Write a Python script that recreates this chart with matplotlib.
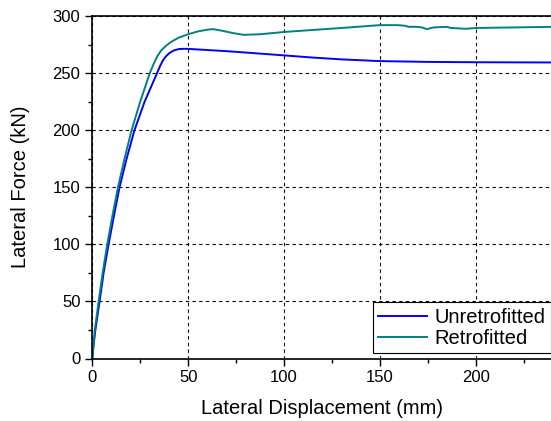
import numpy as np
import matplotlib
matplotlib.use("Agg")
import matplotlib.pyplot as plt
from matplotlib.ticker import MultipleLocator

plt.rcParams['font.family'] = ['Liberation Sans', 'DejaVu Sans']

# curva sin refuerzo
x_unret = [0, 0.7, 1.6, 3.8, 5.9, 8.5, 11.3, 14.2, 17.9, 22, 27.3, 33.8, 35.3, 36.8, 38.3,
           40.2, 42.5, 45, 48, 52, 60, 70, 80, 100, 115, 130, 150, 175, 200, 240]
f_unret = [0, 12, 25, 50, 75, 100, 125, 150, 175, 200, 225, 250, 256, 261, 264.5,
           267.5, 269.8, 271, 271.3, 271, 270.2, 269.2, 268, 265.5, 263.6, 262, 260.5,
           259.8, 259.5, 259.3]

# curva con refuerzo
x_ret = [0, 0.6, 1.3, 3.3, 5.4, 7.8, 10.5, 13.4, 16.8, 20.5, 25, 30, 32, 34, 36, 38.5,
         41.3, 45, 50, 55, 60, 63, 68, 73.5, 79, 87.5, 100, 130, 150, 159, 163, 165, 168,
         172, 174.5, 178, 185, 187, 195, 200, 220, 240]
f_ret = [0, 12, 25, 50, 75, 100, 125, 150, 175, 200, 225, 250, 258, 265, 270, 274,
         277.5, 281, 284, 286.5, 288, 288.5, 287, 285, 283.5, 284, 286, 289.5, 292, 292,
         291.5, 290.5, 290.6, 290, 288.5, 290, 290.5, 289.5, 288.8, 289.5, 290, 290.5]

fig = plt.figure(figsize=(5.51, 4.21), dpi=100)
ax = fig.add_axes([92.3 / 551, 62.5 / 421, 460.1 / 551, 342.5 / 421])

ax.plot(x_unret, f_unret, color='#0000FF', lw=1.4, label='Unretrofitted')
ax.plot(x_ret, f_ret, color='#008080', lw=1.4, label='Retrofitted')

ax.set_xlim(0, 240)
ax.set_ylim(0, 300)
ax.xaxis.set_major_locator(MultipleLocator(50))
ax.xaxis.set_minor_locator(MultipleLocator(25))
ax.yaxis.set_major_locator(MultipleLocator(50))
ax.yaxis.set_minor_locator(MultipleLocator(25))
ax.tick_params(which='major', direction='out', length=5, width=1, labelsize=12)
ax.tick_params(which='minor', direction='out', length=3, width=1)
ax.grid(True, which='major', color='black', linestyle=(0, (3, 3)), lw=0.8)

for s in ax.spines.values():
    s.set_linewidth(1.2)

ax.set_xlabel('Lateral Displacement (mm)', fontsize=14.5, labelpad=10)
ax.set_ylabel('Lateral Force (kN)', fontsize=14.5, labelpad=16)

leg = ax.legend(loc='lower right', bbox_to_anchor=(0.998, 0.0146), fontsize=14.5,
                frameon=True, fancybox=False, edgecolor='black', framealpha=1,
                handlelength=2.4, borderaxespad=0, borderpad=0.28, labelspacing=0.1,
                handletextpad=0.4)
leg.get_frame().set_linewidth(0.8)

fig.savefig('out.png', dpi=100)
